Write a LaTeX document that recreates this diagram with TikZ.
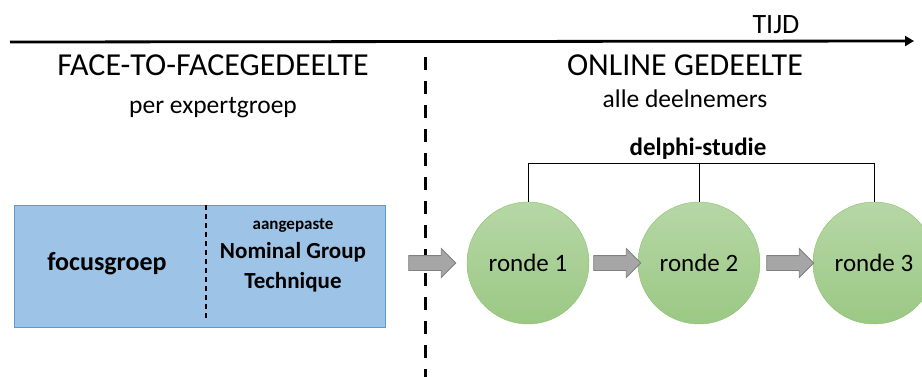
\documentclass[tikz,border=0pt]{standalone}
\usepackage{fontspec}
\setmainfont{Carlito}
\usetikzlibrary{positioning, arrows.meta, shapes.arrows, calc}
\definecolor{blueF}{RGB}{157,195,230}
\definecolor{blueD}{RGB}{91,155,213}
\definecolor{greenT}{RGB}{182,215,166}
\definecolor{greenB}{RGB}{155,200,132}
\definecolor{greenD}{RGB}{140,192,110}
\definecolor{greyA}{RGB}{166,166,166}
\definecolor{greyD}{RGB}{128,128,128}

\begin{document}
\begin{tikzpicture}
[x=1pt, y=-1pt,
   axis/.style={line width=2.8pt, arrows={-Triangle[length=9pt,width=10pt]}},
   split/.style={line width=3pt, dash pattern=on 13pt off 11pt},
   inner/.style={line width=1.3pt, dash pattern=on 5pt off 4pt},
   title/.style={font=\fontsize{32}{32}\selectfont, inner sep=0pt, anchor=base},
   sub/.style={font=\fontsize{25.5}{25.5}\selectfont, inner sep=0pt, anchor=base},
   bold/.style={font=\bfseries\fontsize{#1}{#1}\selectfont, inner sep=0pt, anchor=base},
   box/.style={shape=rectangle, draw=blueD, fill=blueF, line width=1pt,
     minimum width=371pt, minimum height=122pt},
   ronde/.style={shape=circle, draw=greenD, top color=greenT, bottom color=greenB,
     minimum size=122pt, inner sep=0pt, font=\fontsize{25}{25}\selectfont},
   block/.style={single arrow, draw=greyD, fill=greyA, line width=0.8pt,
     inner xsep=0pt, inner ysep=7pt, minimum height=47pt,
     single arrow head extend=7pt, single arrow tip angle=90}]
\useasboundingbox (0,0) rectangle (922,376);
%% time axis
\coordinate (T0) at (10,42);
\coordinate (T1) at (914,41);
\draw [axis] (T0) -- (T1);
\node [sub, font=\fontsize{28}{28}\selectfont] (TIJD) at (776,33) {TIJD};
%% two parts
\node [title] (FTF) at (213,75) {FACE-TO-FACEGEDEELTE};
\node [sub] (PEG) at (213,113) {per expertgroep};
\node [title] (ONL) at (685,75) {ONLINE GEDEELTE};
\node [sub] (ADN) at (685,107) {alle deelnemers};
\coordinate (S0) at (425,57);
\coordinate (S1) at (425,380);
\draw [split] (S0) -- (S1);
%% face-to-face
\node [box] (FG) at (199.5,266) {};
\draw [inner] (206,205) -- (206,321);
\node [bold=26] (FOC) at (107,270) {focusgroep};
\node [bold=17] (AGP) at (293,229) {aangepaste};
\node [bold=23] (NG) at (293,258) {Nominal Group};
\node [bold=23] (TQ) at (293,288) {Technique};
%% online
\node [ronde] (R1) at (528,263) {ronde 1};
\node [ronde] (R2) at (699,263) {ronde 2};
\node [ronde] (R3) at (874,263) {ronde 3};
\node [block] (A1) at (428.5,263) {};
\node [block] (A2) at ($(R1.east)!0.5!(R2.west)$) {};
\node [block] (A3) at ($(R2.east)!0.5!(R3.west)$) {};
\coordinate [above=38pt of R1.north] (B1);
\coordinate [above=38pt of R2.north] (B2);
\draw [line width=1pt] (R1.north) -- (B1) -| (R3.north);
\draw [line width=1pt] (R2.north) -- (B2);
\node [bold=25] (DS) at (698,155) {delphi-studie};
\end{tikzpicture}
\end{document}
